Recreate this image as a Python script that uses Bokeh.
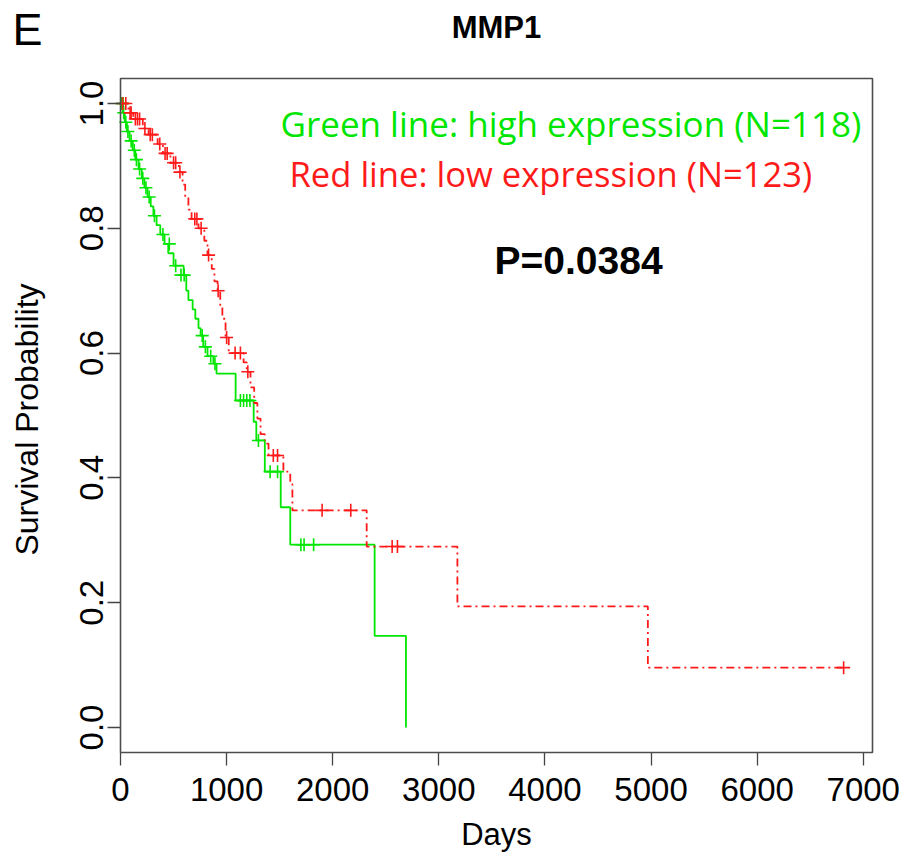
import math
from bokeh.plotting import figure
from bokeh.models import Label, FixedTicker, LinearAxis, BoxAnnotation, Range1d
from bokeh.embed import file_html
from bokeh.resources import INLINE

# ---------------- data ----------------
# High expression group (green), Kaplan-Meier step curve
high_time = [0, 20, 40, 60, 85, 115, 140, 170, 200, 225, 255, 285, 310, 340, 375,
             415, 450, 500, 595, 620, 640, 680, 705, 735, 755, 780, 820, 875, 905,
             1085, 1255, 1280, 1360, 1510, 1600, 2395, 2690]
high_surv = [1.0, 0.985, 0.97, 0.955, 0.94, 0.925, 0.91, 0.895, 0.88, 0.865, 0.85,
             0.835, 0.82, 0.805, 0.79, 0.775, 0.76, 0.74, 0.725, 0.70, 0.685, 0.67,
             0.655, 0.64, 0.628, 0.61, 0.595, 0.583, 0.567, 0.524, 0.49, 0.46, 0.41,
             0.353, 0.293, 0.147, 0.0]
high_cens_time = [10, 25, 30, 50, 70, 100, 130, 150, 180, 210, 240, 270, 320, 400,
                  460, 520, 570, 600, 770, 800, 850, 890, 1130, 1160, 1190, 1220,
                  1300, 1410, 1480, 1700, 1730, 1820]
high_cens_surv = [1.0, 1.0, 0.985, 0.97, 0.955, 0.94, 0.925, 0.91, 0.895, 0.88, 0.865,
                  0.85, 0.82, 0.79, 0.775, 0.74, 0.725, 0.725, 0.628, 0.61, 0.595,
                  0.583, 0.524, 0.524, 0.524, 0.524, 0.46, 0.41, 0.41, 0.293, 0.293,
                  0.293]

# Low expression group (red)
low_time = [0, 75, 120, 210, 265, 350, 400, 470, 550, 585, 610, 640, 670, 735, 790,
            820, 860, 885, 915, 940, 960, 990, 1020, 1160, 1190, 1225, 1260, 1290,
            1320, 1360, 1395, 1535, 1600, 1620, 2320, 3175, 4970, 6815]
low_surv = [1.0, 0.985, 0.975, 0.96, 0.95, 0.935, 0.92, 0.905, 0.89, 0.87, 0.85, 0.83,
            0.815, 0.80, 0.78, 0.757, 0.735, 0.715, 0.70, 0.675, 0.655, 0.625, 0.60,
            0.585, 0.57, 0.545, 0.52, 0.495, 0.47, 0.455, 0.436, 0.41, 0.39, 0.348,
            0.29, 0.194, 0.096, 0.096]
low_cens_time = [20, 50, 90, 100, 140, 160, 180, 230, 280, 300, 370, 420, 440, 500,
                 520, 560, 700, 720, 760, 830, 920, 1000, 1080, 1130, 1200, 1440, 1480,
                 1900, 2170, 2560, 2610, 6815]
low_cens_surv = [1.0, 1.0, 0.985, 0.985, 0.975, 0.975, 0.975, 0.96, 0.95, 0.95, 0.935,
                 0.92, 0.92, 0.905, 0.905, 0.89, 0.815, 0.815, 0.80, 0.757, 0.70, 0.625,
                 0.60, 0.60, 0.57, 0.436, 0.436, 0.348, 0.348, 0.29, 0.29, 0.096]

x_ticks = [0, 1000, 2000, 3000, 4000, 5000, 6000, 7000]
y_ticks = [0.0, 0.2, 0.4, 0.6, 0.8, 1.0]
y_tick_labels = ["0.0", "0.2", "0.4", "0.6", "0.8", "1.0"]

title_text = "MMP1"
panel_text = "E"
legend_high = "Green line: high expression (N=118)"
legend_low = "Red line: low expression (N=123)"
p_text = "P=0.0384"
x_label = "Days"
y_label = "Survival Probability"

GREEN = "#00e600"
RED = "#ff1a1a"
SANS = "'Liberation Sans', Arial, sans-serif"

# ---------------- layout ----------------
# The plotting box (in canvas px) and its data limits; the Bokeh frame covers the
# whole canvas so that titles and labels around the box are drawn as well.
W, H = 901, 853
BL, BT, BR, BB = 120, 78, 872, 752
X0, X1 = 0, 7087
Y0, Y1 = -0.04, 1.04
kx = (X1 - X0) / (BR - BL)
ky = (Y1 - Y0) / (BB - BT)

p = figure(width=W, height=H, output_backend="svg", toolbar_location=None,
           x_range=Range1d(X0 - BL * kx, X0 + (W - BL) * kx),
           y_range=Range1d(Y0 - (H - BB) * ky, Y0 + BB * ky),
           x_axis_location=None, y_axis_location=None,
           min_border=0)
p.grid.visible = False
p.background_fill_color = "white"
p.border_fill_color = "white"
p.outline_line_color = None

p.add_layout(BoxAnnotation(left=X0, right=X1, bottom=Y0, top=Y1,
                           fill_color=None, fill_alpha=0,
                           line_color="#4d4d4d", line_alpha=1.0,
                           line_width=1.6))

xa = LinearAxis(fixed_location=Y0, ticker=FixedTicker(ticks=x_ticks))
ya = LinearAxis(fixed_location=X0, ticker=FixedTicker(ticks=y_ticks))
for ax in (xa, ya):
    ax.axis_line_color = None
    ax.major_tick_line_color = "#444444"
    ax.major_tick_line_width = 1.3
    ax.major_tick_out = 13
    ax.major_tick_in = 0
    ax.minor_tick_line_color = None
    ax.major_label_text_font = SANS
    ax.major_label_text_font_size = "33px"
    ax.major_label_text_color = "black"
xa.major_label_standoff = 12
ya.major_label_overrides = {t: s for t, s in zip(y_ticks, y_tick_labels)}
ya.major_label_orientation = "vertical"
ya.major_label_standoff = 4
p.add_layout(xa, "below")
p.add_layout(ya, "left")

# ---------------- curves ----------------
p.step(high_time, high_surv, mode="after", line_color=GREEN, line_width=1.8)
p.step(low_time, low_surv, mode="after", line_color=RED, line_width=1.8,
       line_dash="8 4 2 4")
p.scatter(high_cens_time, high_cens_surv, marker="cross", size=13,
          line_color=GREEN, line_width=1.6)
p.scatter(low_cens_time, low_cens_surv, marker="cross", size=13,
          line_color=RED, line_width=1.6)

# ---------------- texts (screen units = canvas px, y measured upward) ----------------
def add_label(text, cx, cy, size, style="normal", color="black", font=SANS,
              align="left", angle=0.0):
    p.add_layout(Label(x=cx, y=H - cy, x_units="screen", y_units="screen",
                       text=text, text_font=font, text_font_size=size,
                       text_font_style=style, text_color=color,
                       text_align=align, text_baseline="alphabetic",
                       angle=angle))

add_label(panel_text, 12, 29, "45px")
add_label(title_text, (BL + BR) / 2, 27, "31px", style="bold", align="center")
add_label(legend_high, 280, 123, "35px", font="'Open Sans'", color=GREEN)
add_label(legend_low, 289, 173, "34.6px", font="'Open Sans'", color=RED)
add_label(p_text, 494, 260, "39px", style="bold")
add_label(x_label, (BL + BR) / 2, 834, "31px", align="center")
add_label(y_label, 26, 419, "32px", align="center", angle=math.pi / 2)

open("out.html", "w").write(file_html(p, INLINE))
